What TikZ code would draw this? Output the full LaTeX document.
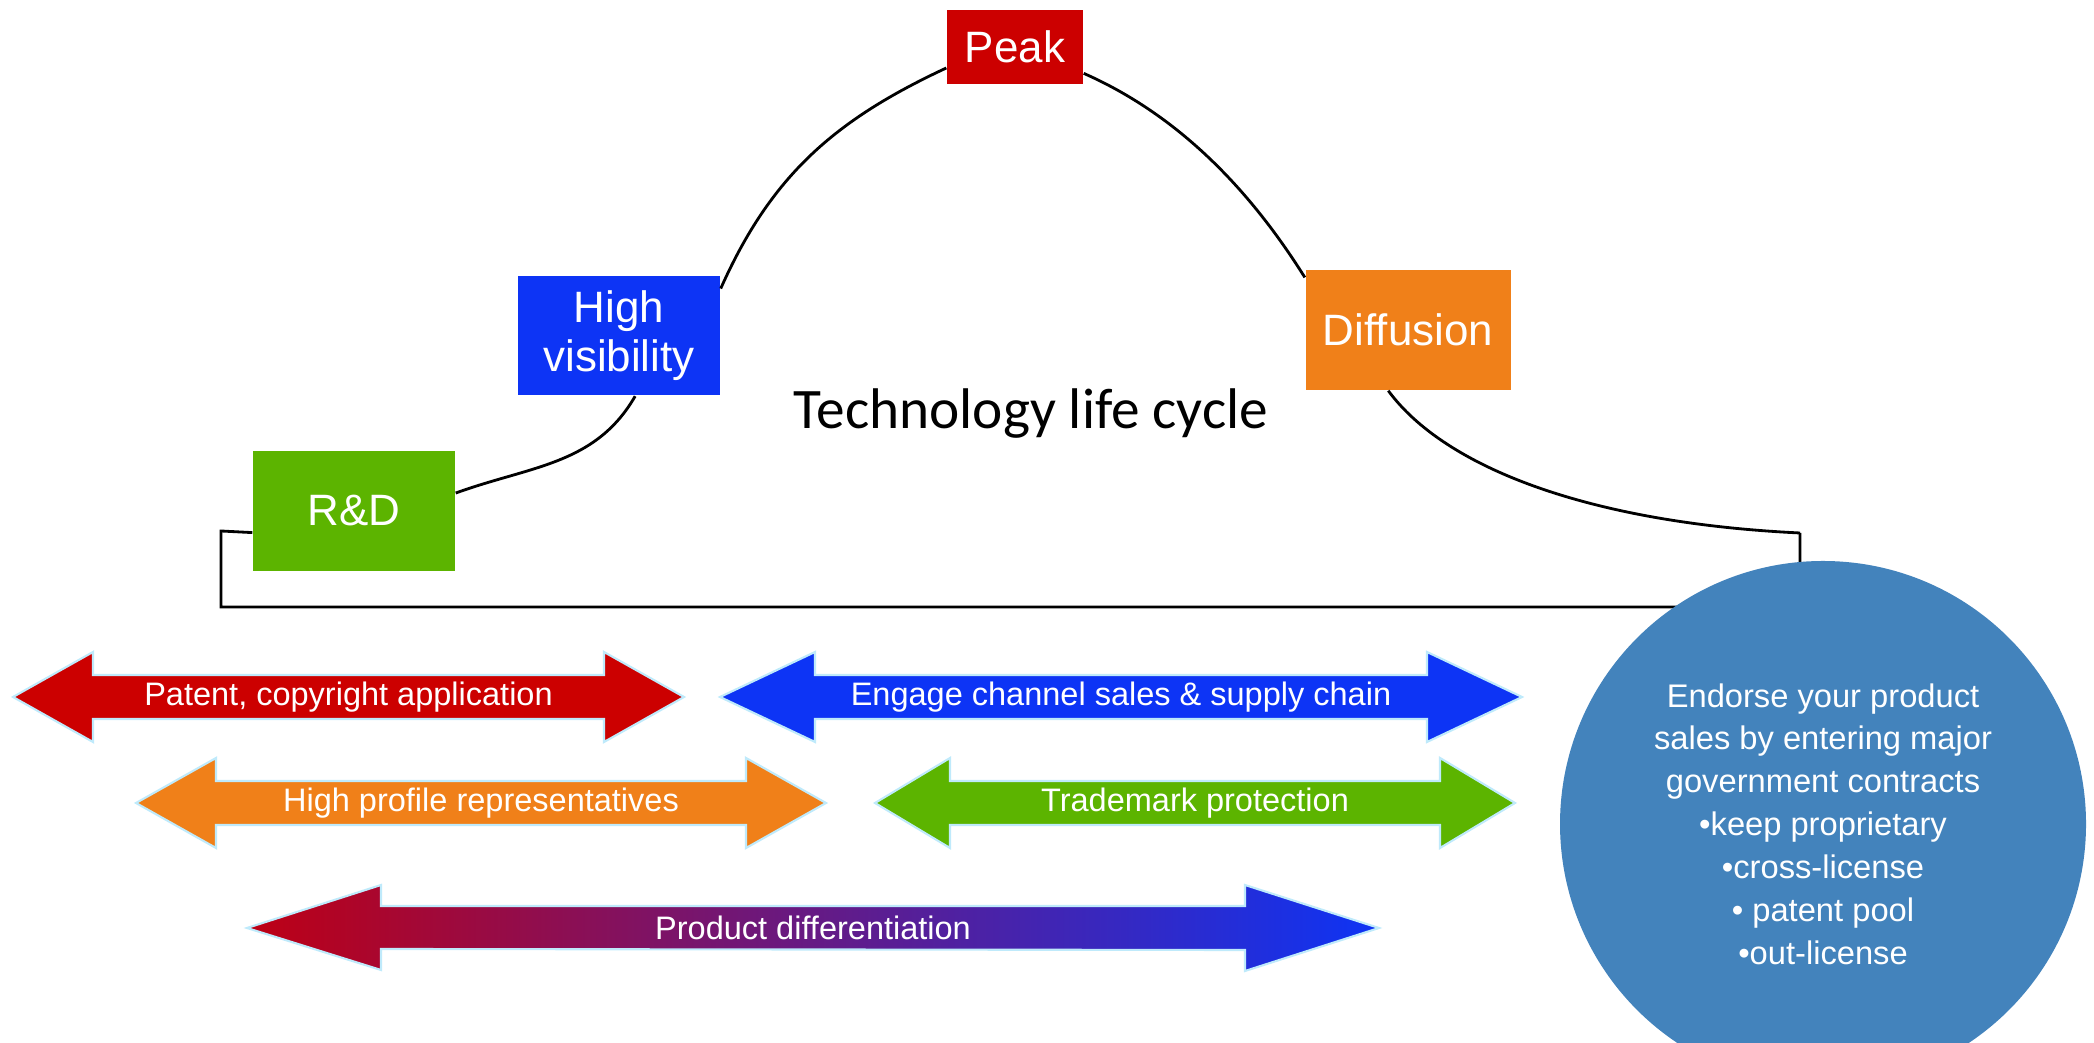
\documentclass[tikz,border=0pt]{standalone}
\usepackage{fontspec}
\setmainfont{Liberation Sans}
\newfontfamily\titlefont{Carlito}
\usetikzlibrary{calc}

\definecolor{rdgreen}{RGB}{92,180,0}
\definecolor{hvblue}{RGB}{13,52,245}
\definecolor{pkred}{RGB}{204,0,0}
\definecolor{dforange}{RGB}{240,128,25}
\definecolor{ipblue}{RGB}{67,131,188}
\definecolor{gradred}{RGB}{190,0,20}

\begin{document}
\begin{tikzpicture}[
	stage/.style={rectangle, inner sep=0pt, align=center, text=white,
		font=\fontsize{12.5}{13.9}\selectfont},
	curve/.style={line width=0.8pt, black},
	band/.style={draw=cyan!25, line width=0.6pt},
	bandtext/.style={text=white, inner sep=0pt, font=\fontsize{9.25}{11}\selectfont}
]

	% ---- frame

	\clip (0,0) rectangle (20.94,10.43);

	% ---- stages

	\node[stage, fill=rdgreen, minimum width=2.02cm, minimum height=1.20cm] (rd) at (3.54,5.32) {R\&D};
	\node[stage, fill=hvblue, minimum width=2.02cm, minimum height=1.19cm] (hv) at (6.19,7.07) {High\\visibility};
	\node[stage, fill=pkred, minimum width=1.36cm, minimum height=0.74cm] (pk) at (10.15,9.96) {Peak};
	\node[stage, fill=dforange, minimum width=2.05cm, minimum height=1.20cm] (df) at (14.08,7.13) {Diffusion};

	\node[anchor=base, font=\titlefont\fontsize{16.3}{19}\selectfont] (title) at (10.31,6.14) {Technology life cycle};

	% ---- coordinates

	\coordinate (BL) at (2.21,5.12);
	\coordinate (BB) at (2.21,4.36);
	\coordinate (BR) at (18.00,4.36);
	\coordinate (TR) at (18.00,5.10);

	% ---- curve

	\draw[curve] (rd.10) to[out=20, in=240] (hv.-75);
	\draw[curve] (hv.25) to[out=66, in=205] (pk.197);
	\draw[curve] (pk.-21) .. controls (11.85,9.25) and (12.55,8.45) .. (df.153);
	\draw[curve] (df.-108) .. controls (14.45,5.75) and (15.90,5.20) .. (TR);

	% ---- bracket

	\draw[curve] (rd.192) -- (BL) -- (BB) -- (BR) -- (TR);

	% ---- strategy arrows

	\foreach \name/\xa/\xb/\y/\hl/\col/\txt in {
		pat/0.13/6.84/3.46/0.80/pkred/{Patent, copyright application},
		chn/7.20/15.22/3.46/0.95/hvblue/{Engage channel sales \& supply chain},
		rep/1.36/8.26/2.40/0.80/dforange/{High profile representatives},
		tmk/8.75/15.15/2.40/0.75/rdgreen/{Trademark protection}} {
		\path[band, fill=\col] (\xa,\y) -- ++(\hl,0.45) -- ++(0,-0.23) -- ({\xb-\hl},{\y+0.22})
			-- ++(0,0.23) -- (\xb,\y) -- ++(-\hl,-0.45) -- ++(0,0.23) -- ({\xa+\hl},{\y-0.22})
			-- ++(0,-0.23) -- cycle;
		\node[bandtext] (\name) at ({(\xa+\xb)/2},\y) {\txt};
	}

	\shade[band, left color=gradred, right color=hvblue] (2.47,1.15) -- ++(1.34,0.43) -- ++(0,-0.21)
		-- (12.45,1.37) -- ++(0,0.21) -- (13.79,1.15) -- ++(-1.34,-0.43) -- ++(0,0.21)
		-- (3.81,0.94) -- ++(0,-0.21) -- cycle;
	\node[bandtext] (dif) at (8.13,1.15) {Product differentiation};

	% ---- licensing

	\node[circle, fill=ipblue, minimum size=5.26cm, inner sep=0pt, text=white, align=center,
		font=\fontsize{9.3}{12.2}\selectfont] (ip) at (18.23,2.19)
		{Endorse your product\\sales by entering major\\government contracts\\•keep proprietary\\•cross-license\\• patent pool\\•out-license};

\end{tikzpicture}
\end{document}
